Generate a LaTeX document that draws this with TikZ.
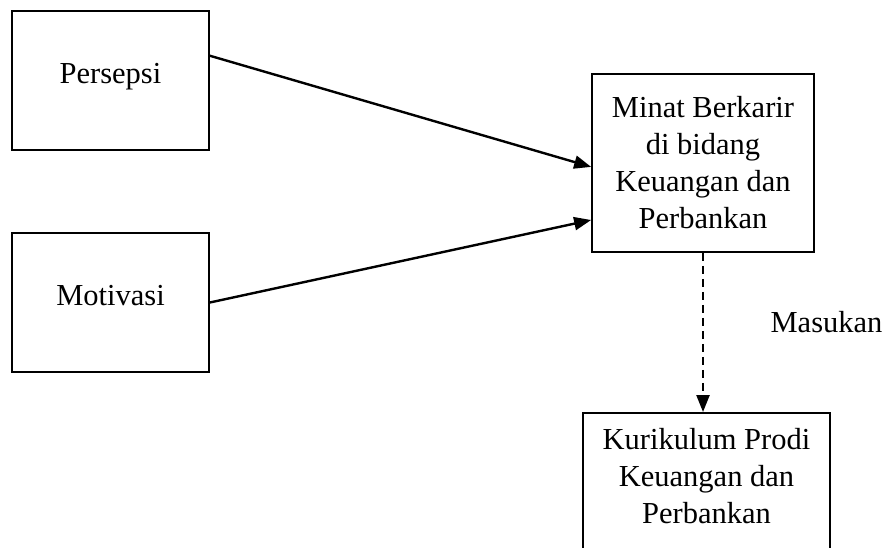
\documentclass[tikz,border=0pt]{standalone}
\usepackage{fontspec}
\setmainfont{Liberation Serif}
\usetikzlibrary{arrows.meta,calc}

\begin{document}
\begin{tikzpicture}[x=1pt,y=-1pt,
    box/.style={draw, line width=1.7pt, align=center, inner sep=15pt,
        font=\fontsize{30.5}{37}\selectfont},
    link/.style={line width=2.4pt, -{Triangle[length=17pt,width=13pt]}}]
    \clip (0,0) rectangle (882,547);
    \node[box, minimum width=197pt, minimum height=139pt, text height=20pt, text depth=15pt] (persepsi) at (110.5,80.5) {Persepsi};
    \node[box, minimum width=197pt, minimum height=139pt, text height=20pt, text depth=15pt] (motivasi) at (110.5,302.5) {Motivasi};
    \node[box, minimum width=222pt, minimum height=178pt] (minat) at (703,163) {Minat Berkarir\\di bidang\\Keuangan dan\\Perbankan};
    \node[box, anchor=north, minimum width=247pt] (kurikulum) at (706.5,412) {Kurikulum Prodi\\Keuangan dan\\Perbankan\rule[-70pt]{0pt}{70pt}};
    \node[font=\fontsize{30.5}{37}\selectfont, inner sep=0pt] (masukan) at (826.5,322) {Masukan};
    \draw[link] (persepsi.14) -- (minat.182);
    \draw[link] (motivasi.east) -- (minat.207);
    \draw[link, dash pattern=on 8pt off 5pt] (minat.south) -- (minat.south |- kurikulum.north);
\end{tikzpicture}
\end{document}
